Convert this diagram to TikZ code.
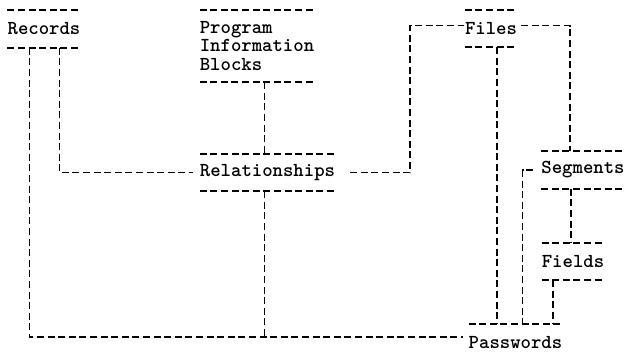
\documentclass[tikz,border=0pt]{standalone}
\usepackage{fontspec}
\begin{document}
\begin{tikzpicture}[x=1pt,y=-1pt,
  dl/.style={line width=1.8pt, dash pattern=on 7pt off 3.6pt},
  ent/.style={font=\ttfamily\bfseries\fontsize{19.8}{18.2}\selectfont, align=left,
    inner xsep=0pt, inner ysep=0pt, minimum height=37pt}]
\useasboundingbox (0,0) rectangle (626,357);

% entities
\node[ent] (rec)   at (44,29)   {Records};
\node[ent, minimum height=72pt] (pib) at (257,46) {Program\\Information\\Blocks};
\node[ent] (rel)   at (267.5,172.5) {Relationships};
\node[ent] (files) at (491,28.5)  {Files};
\node[ent] (seg)   at (583,170)   {Segments};
\node[ent] (fld)   at (573,261.5) {Fields};
\node[ent] (pw)    at (515.5,343) {Passwords};

% rules above and below each entity name
\foreach \n in {rec,pib,rel,files,seg,fld}{
  \draw[dl] (\n.north west) -- (\n.north east);
  \draw[dl] (\n.south west) -- (\n.south east);
}
\draw[dl] (pw.north west) -- (pw.north east);

% connection points
\coordinate (pwin) at (463,337);
\coordinate (relbot) at ([xshift=-3]rel.south);
\coordinate (reltop) at ([xshift=-3]rel.north);
\coordinate (fb) at ([xshift=32]files.south west);
\coordinate (sb) at ([xshift=30]seg.south west);
\coordinate (fdb) at ([xshift=11]fld.south west);

% connectors
\draw[dl] ([xshift=22]rec.south west) |- (pwin);
\draw[dl] ([xshift=52]rec.south west) |- ([xshift=-7]rel.west);
\draw[dl] (reltop |- pib.south) -- (reltop);
\draw[dl] (relbot) -- (relbot |- pwin);
\draw[dl] ([xshift=15]rel.east) -- ([xshift=75]rel.east) |- ([xshift=-1,yshift=3]files.west);
\draw[dl] ([xshift=4,yshift=3]files.east) -| ([xshift=29]seg.north west);
\draw[dl] (fb) -- (fb |- pw.north);
\draw[dl] ([xshift=-8]seg.west) -| ([xshift=54]pw.north west);
\draw[dl] (sb) -- (sb |- fld.north);
\draw[dl] (fdb) -- (fdb |- pw.north);
\end{tikzpicture}
\end{document}
